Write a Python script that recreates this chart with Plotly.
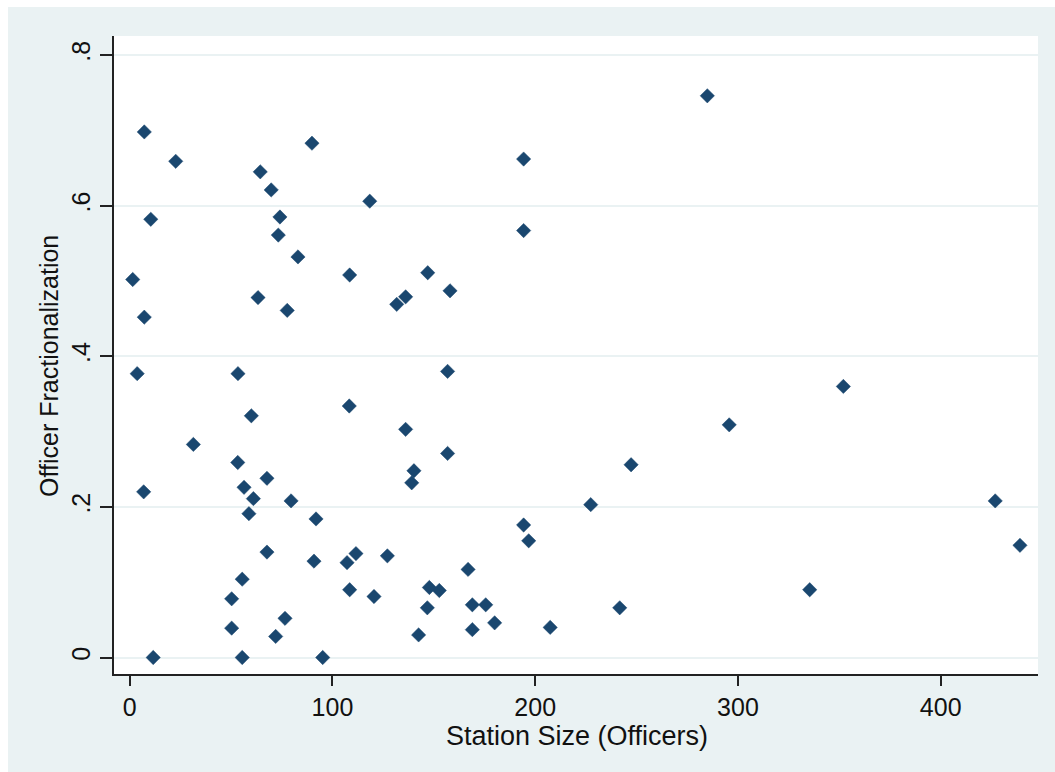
import plotly.graph_objects as go

# Station size (number of officers) and officer fractionalization per station
station_size = [
    7.2, 22.7, 64.4, 69.8, 89.9, 10.4, 74.1, 73.3, 83.0, 108.5,
    1.5, 63.3, 77.7, 7.2, 3.7, 53.4, 108.3, 60.0, 31.4, 53.3,
    67.7, 6.9, 56.4, 61.0, 79.6, 58.8, 91.9, 67.7, 90.9, 107.2,
    111.6, 55.5, 50.3, 76.6, 50.3, 72.0, 11.6, 55.5, 95.2, 194.3,
    118.4, 194.3, 147.0, 158.0, 136.1, 131.7, 156.8, 136.1, 156.8, 140.2,
    139.1, 227.4, 194.3, 196.8, 127.1, 166.9, 108.5, 120.5, 147.8, 152.7,
    146.8, 169.0, 175.6, 180.0, 169.0, 142.5, 207.4, 284.9, 352.0, 295.7,
    247.3, 335.4, 241.7, 426.9, 439.1,
]
fractionalization = [
    0.698, 0.659, 0.645, 0.621, 0.683, 0.582, 0.585, 0.561, 0.532, 0.508,
    0.502, 0.478, 0.461, 0.452, 0.377, 0.377, 0.334, 0.321, 0.283, 0.259,
    0.238, 0.220, 0.226, 0.211, 0.208, 0.191, 0.184, 0.140, 0.128, 0.126,
    0.138, 0.104, 0.078, 0.052, 0.039, 0.028, 0.000, 0.000, 0.000, 0.662,
    0.606, 0.567, 0.511, 0.487, 0.479, 0.469, 0.380, 0.303, 0.271, 0.248,
    0.232, 0.203, 0.176, 0.155, 0.135, 0.117, 0.090, 0.081, 0.093, 0.089,
    0.066, 0.070, 0.070, 0.046, 0.037, 0.030, 0.040, 0.746, 0.360, 0.309,
    0.256, 0.090, 0.066, 0.208, 0.149,
]

x_ticks = [0, 100, 200, 300, 400]
x_tick_labels = ["0", "100", "200", "300", "400"]
y_ticks = [0, 0.2, 0.4, 0.6, 0.8]
y_tick_labels = ["0", ".2", ".4", ".6", ".8"]

BG = "#eaf2f3"
NAVY = "#1a476f"
AXIS = "#222222"
FONT = "Liberation Sans, Arial, sans-serif"

fig = go.Figure(
    go.Scatter(
        x=station_size,
        y=fractionalization,
        mode="markers",
        marker=dict(symbol="diamond", size=11, color=NAVY,
                    line=dict(width=0.5, color=NAVY)),
        hoverinfo="x+y",
    )
)

axis_common = dict(
    showline=True, linecolor=AXIS, linewidth=2,
    ticks="outside", tickcolor=AXIS, tickwidth=2,
    tickfont=dict(family=FONT, size=25, color="#111111"),
    zeroline=False, mirror=False,
)

fig.update_xaxes(
    range=[-7.74, 448.0], tickvals=x_ticks, ticktext=x_tick_labels,
    showgrid=False, ticklen=10, ticklabelstandoff=0, **axis_common,
)
fig.update_yaxes(
    range=[-0.0219, 0.8254], tickvals=y_ticks, ticktext=y_tick_labels,
    showgrid=True, gridcolor=BG, gridwidth=2, ticklen=12,
    tickangle=-90, ticklabelstandoff=0, **axis_common,
)

fig.update_layout(
    width=1055, height=772,
    margin=dict(l=114, r=17, t=36, b=98),
    paper_bgcolor=BG, plot_bgcolor="white",
    showlegend=False,
    font=dict(family=FONT, color="#111111"),
    annotations=[
        dict(text="Station Size (Officers)", xref="paper", yref="paper",
             x=0.501, y=-0.097, xanchor="center", yanchor="middle",
             showarrow=False, font=dict(family=FONT, size=27, color="#111111")),
        dict(text="Officer Fractionalization", xref="paper", yref="paper",
             x=-0.0703, y=0.483, xanchor="center", yanchor="middle",
             textangle=-90, showarrow=False,
             font=dict(family=FONT, size=25, color="#111111")),
    ],
    shapes=[
        # thin white border around the graph region
        dict(type="rect", xref="paper", yref="paper", layer="below",
             x0=-0.2, x1=-0.1147, y0=-0.3, y1=1.2,
             fillcolor="white", line=dict(width=0)),
        dict(type="rect", xref="paper", yref="paper", layer="below",
             x0=-0.2, x1=1.2, y0=1.0455, y1=1.2,
             fillcolor="white", line=dict(width=0)),
    ],
)

fig.write_html("out.html")
